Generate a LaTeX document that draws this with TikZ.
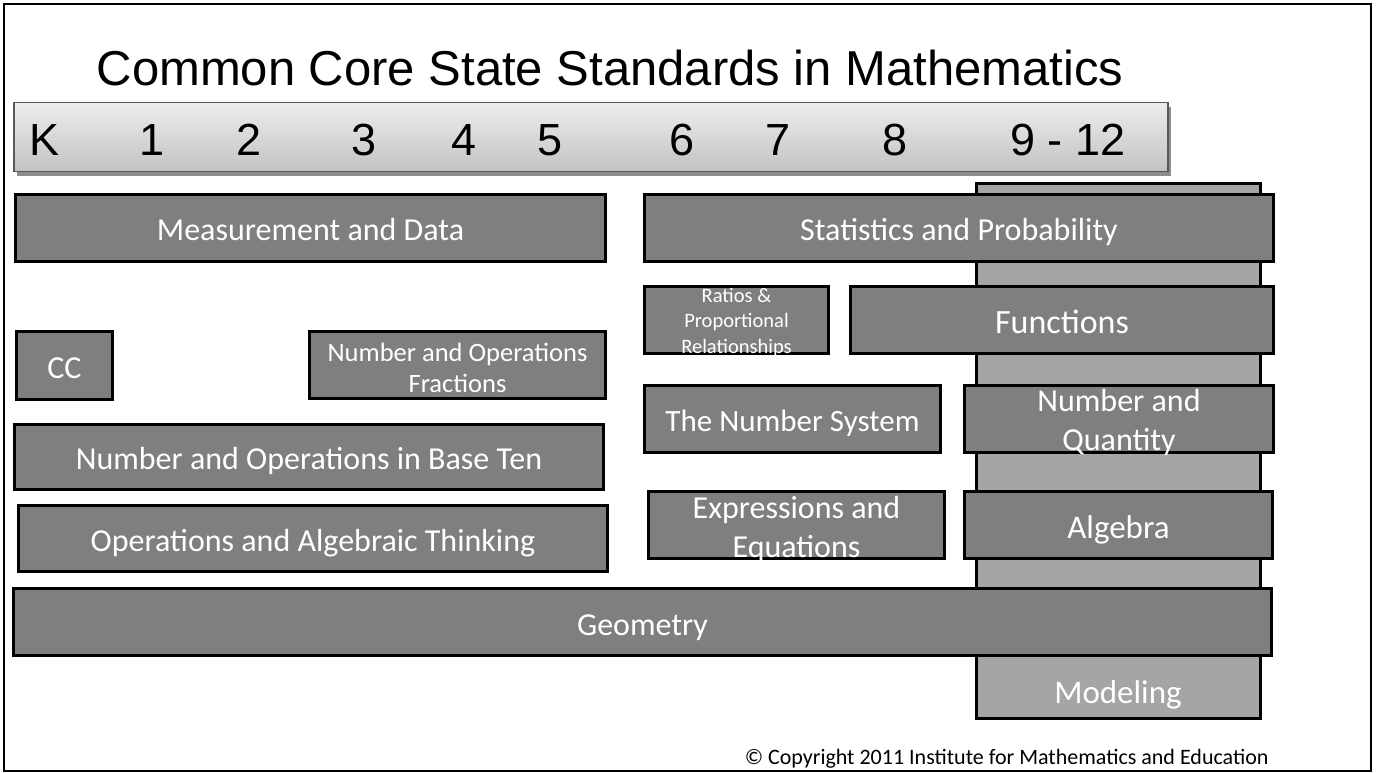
\documentclass[tikz,border=0pt]{standalone}
\usepackage{fontspec}
\setmainfont{Carlito}
\newfontfamily\arialf{Liberation Sans}
\usetikzlibrary{shadows}
\definecolor{boxgray}{HTML}{7F7F7F}
\definecolor{modgray}{HTML}{A5A5A5}
\pgfdeclareverticalshading{barshade}{100bp}{color(0bp)=(black!40); color(30bp)=(black!22); color(75bp)=(black!7); color(88bp)=(black!5); color(100bp)=(black!25)}
\begin{document}
\begin{tikzpicture}[x=1pt,y=-1pt,
  box/.style={draw=black, line width=3pt, fill=boxgray, text=white, align=center, inner sep=0pt,
    font=\fontsize{32}{39}\selectfont},
  one/.style={text height=25pt, text depth=0pt},
  boxtext/.style={text=white, align=center, inner sep=0pt, font=\fontsize{32}{39}\selectfont},
  modbox/.style={draw=black, line width=3pt, fill=modgray, inner sep=0pt},
  gradebar/.style={draw=black!65, line width=1.2pt, shading=barshade,
    drop shadow={shadow xshift=3pt, shadow yshift=-4pt, fill=black, opacity=0.45}},
  grade/.style={anchor=base, font=\arialf\fontsize{45}{54}\selectfont}]
\useasboundingbox (0,0) rectangle (1376,772);
\draw[line width=2pt] (4,4) rectangle (1371,771);

% title
\node[anchor=base, font=\arialf\fontsize{49}{58}\selectfont] (title) at (610,85) {Common Core State Standards in Mathematics};

% grade bar
\node[gradebar, minimum width=1154pt, minimum height=69pt] (bar) at (591,137) {};
\node[grade] (gK) at (45,155) {K};
\node[grade] (g1) at (152,155) {1};
\node[grade] (g2) at (249,155) {2};
\node[grade] (g3) at (364,155) {3};
\node[grade] (g4) at (464,155) {4};
\node[grade] (g5) at (550,155) {5};
\node[grade] (g6) at (682,155) {6};
\node[grade] (g7) at (778,155) {7};
\node[grade] (g8) at (895,155) {8};
\node[grade] (g912) at (1068,155) {9 - 12};

% modeling column
\node[modbox, minimum width=284pt, minimum height=535pt] (mod) at (1118.5,451) {};
\node[boxtext, text height=25pt, text depth=0pt, font=\fontsize{33}{40}\selectfont] (modt) at (1118,691) {Modeling};

% boxes
\node[box, one, minimum width=590pt, minimum height=67pt] (md) at (310.5,228) {Measurement and Data};
\node[box, one, minimum width=629pt, minimum height=67pt] (sp) at (959,228) {Statistics and Probability};
\node[box, minimum width=184pt, minimum height=67pt] (rp) at (736.5,320) {};
\node[boxtext, font=\fontsize{20.5}{25.5}\selectfont, yshift=-2.5pt] (rpt) at (rp.center) {Ratios \&\\Proportional\\Relationships};
\node[box, text height=26pt, text depth=0pt, minimum width=423pt, minimum height=67pt, font=\fontsize{34}{40}\selectfont] (fn) at (1062,320) {Functions};
\node[box, one, minimum width=96pt, minimum height=68pt] (cc) at (64.5,365.5) {CC};
\node[box, minimum width=296pt, minimum height=67pt] (nof) at (457.5,365) {};
\node[boxtext, font=\fontsize{26.5}{31}\selectfont, yshift=-3pt] (noft) at (nof.center) {Number and Operations\\Fractions};
\node[box, text height=24pt, text depth=0pt, minimum width=296pt, minimum height=67pt, font=\fontsize{31}{38}\selectfont] (ns) at (792.5,419) {The Number System};
\node[box, minimum width=309pt, minimum height=67pt] (nq) at (1119,419) {};
\node[boxtext, yshift=-3pt] (nqt) at (nq.center) {Number and\\Quantity};
\node[box, one, minimum width=589pt, minimum height=65pt] (nbt) at (309,457) {Number and Operations in Base Ten};
\node[box, one, minimum width=589pt, minimum height=66pt] (oa) at (313,538.5) {Operations and Algebraic Thinking};
\node[box, minimum width=296pt, minimum height=67pt] (ee) at (796.5,525) {};
\node[boxtext, yshift=-4.5pt] (eet) at (ee.center) {Expressions and\\Equations};
\node[box, text height=26pt, text depth=0pt, minimum width=308pt, minimum height=67pt, font=\fontsize{33}{40}\selectfont] (al) at (1118.5,525) {Algebra};
\node[box, text height=26pt, text depth=0pt, minimum width=1258pt, minimum height=67pt] (ge) at (642.5,622) {Geometry};

% copyright
\node[anchor=base east, font=\fontsize{22}{26}\selectfont] (copy) at (1272,764) {© Copyright 2011 Institute for Mathematics and Education};
\end{tikzpicture}
\end{document}
